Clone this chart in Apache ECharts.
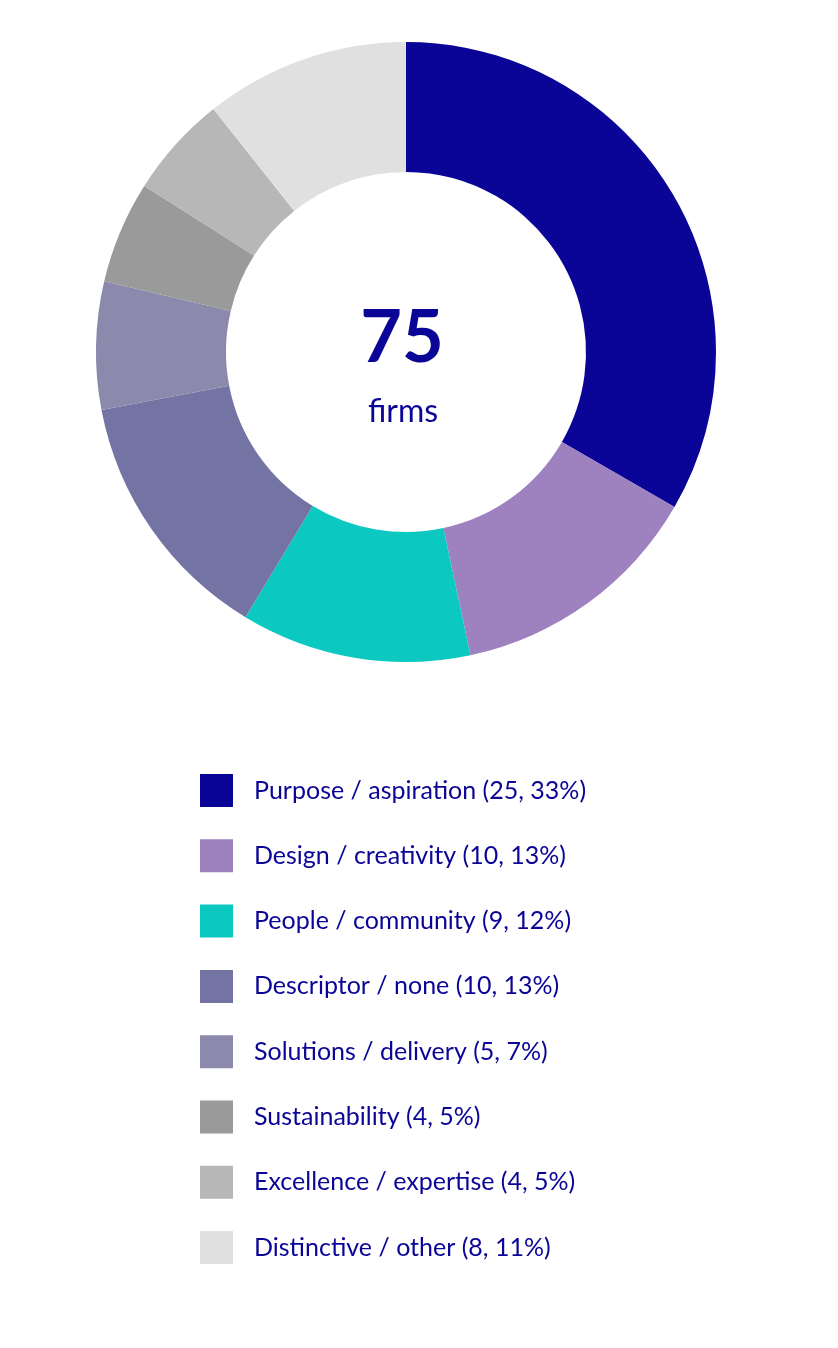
<!DOCTYPE html>
<html>
<head>
<meta charset="utf-8">
<title>75 firms</title>
<script src="https://cdn.jsdelivr.net/npm/echarts@6/dist/echarts.min.js"></script>
<style>
  html, body { margin: 0; padding: 0; background: #fff; }
  #chart { width: 838px; height: 1348px; }
</style>
</head>
<body>
<div id="chart"></div>
<script>
    // data
    var categories = [
        'Purpose / aspiration',
        'Design / creativity',
        'People / community',
        'Descriptor / none',
        'Solutions / delivery',
        'Sustainability',
        'Excellence / expertise',
        'Distinctive / other'
    ];
    var counts = [25, 10, 9, 10, 5, 4, 4, 8];
    var colors = ['#0a0596', '#9e81bf', '#0bc8c1', '#7474a4', '#8b8aac', '#9a9a9a', '#b7b7b7', '#e0e0e0'];
    var totalLabel = 'firms';

    var total = counts.reduce(function (a, b) { return a + b; }, 0);
    var textColor = '#0a0596';
    var font = 'Lato';

    var chart = echarts.init(document.getElementById('chart'), null, {
        renderer: 'canvas'
    });

    chart.setOption({
        animation: false,
        color: colors,
        title: [
            {
                text: String(total),
                left: 397,
                top: 334,
                textAlign: 'center',
                textVerticalAlign: 'middle',
                textStyle: {
                    color: textColor,
                    fontFamily: font,
                    fontWeight: 'bold',
                    fontSize: 72
                }
            },
            {
                text: totalLabel,
                left: 398,
                top: 407,
                textAlign: 'center',
                textVerticalAlign: 'middle',
                textStyle: {
                    color: textColor,
                    fontFamily: font,
                    fontWeight: 'normal',
                    fontSize: 32
                }
            }
        ],
        legend: {
            orient: 'vertical',
            left: 200,
            top: 774,
            padding: 0,
            itemWidth: 33,
            itemHeight: 33,
            itemGap: 32.3,
            icon: 'rect',
            selectedMode: false,
            data: categories,
            formatter: function (name) {
                var i = categories.indexOf(name);
                var pct = Math.round(counts[i] / total * 100);
                return name + ' (' + counts[i] + ', ' + pct + '%)';
            },
            textStyle: {
                color: textColor,
                fontFamily: font,
                fontSize: 25,
                padding: [0, 0, 0, 16]
            }
        },
        series: [
            {
                type: 'pie',
                center: [406, 352],
                radius: [180, 310],
                startAngle: 90,
                clockwise: true,
                label: { show: false },
                labelLine: { show: false },
                emphasis: { disabled: true },
                itemStyle: { borderWidth: 0 },
                data: categories.map(function (c, i) {
                    return { name: c, value: counts[i] };
                })
            }
        ]
    });
</script>
</body>
</html>
